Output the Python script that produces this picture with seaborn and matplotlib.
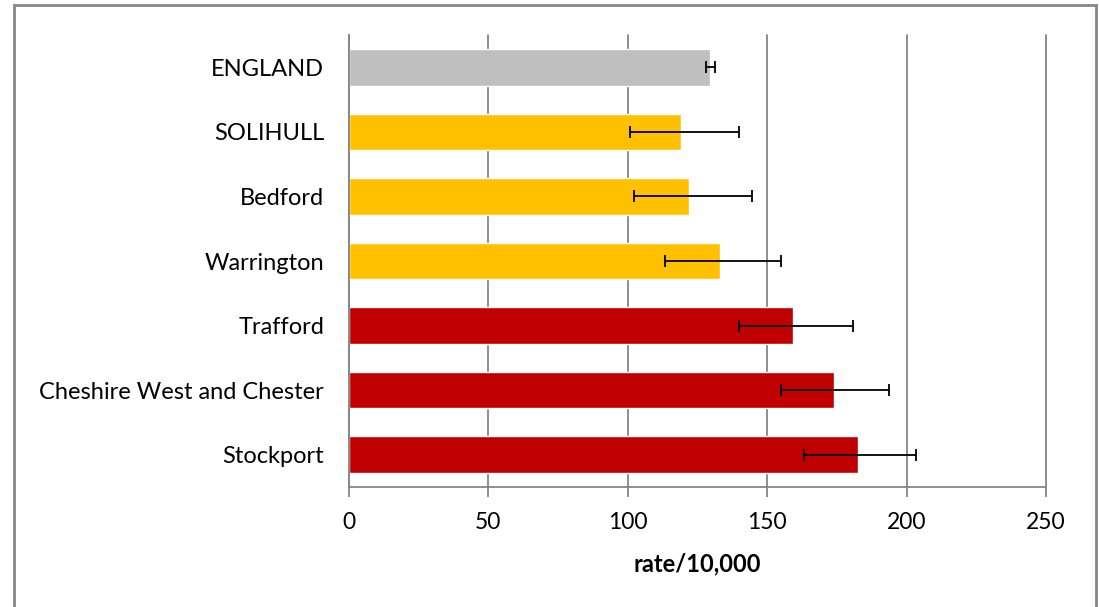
import pandas as pd
import seaborn as sns
import matplotlib.pyplot as plt
from matplotlib.patches import Rectangle

# Values
areas = ['ENGLAND', 'SOLIHULL', 'Bedford', 'Warrington', 'Trafford',
         'Cheshire West and Chester', 'Stockport']
rates = [129.5, 119.2, 122.1, 133.2, 159.3, 174.0, 182.4]
lower_ci = [128.1, 100.6, 102.3, 113.5, 139.7, 155.1, 163.3]
upper_ci = [131.2, 140.0, 144.6, 155.0, 180.9, 193.5, 203.4]
bar_colours = ['#BFBFBF', '#FFC000', '#FFC000', '#FFC000',
               '#C00000', '#C00000', '#C00000']

df = pd.DataFrame({'area': areas, 'rate': rates, 'lo': lower_ci, 'hi': upper_ci})

sns.set_style('white')
plt.rcParams['font.family'] = ['Lato', 'DejaVu Sans']

fig = plt.figure(figsize=(10.99, 6.07), dpi=100)
ax = fig.add_axes([0.3176, 0.198, 0.6342, 0.744])

sns.barplot(data=df, x='rate', y='area', hue='area', palette=bar_colours,
            orient='h', width=0.57, legend=False, ax=ax, saturation=1)

# confidence intervals
ax.errorbar(df['rate'], range(len(df)),
            xerr=[df['rate'] - df['lo'], df['hi'] - df['rate']],
            fmt='none', ecolor='black', elinewidth=1.3, capsize=4, capthick=1.3)

ax.set_xlim(0, 250)
ax.set_xticks([0, 50, 100, 150, 200, 250])
ax.set_ylim(len(df) - 0.5, -0.5)
ax.grid(axis='x', color='#868686', linewidth=1.3)
for gl in ax.get_xgridlines():
    gl.set_clip_on(False)
ax.set_axisbelow(True)

for side in ['top', 'right']:
    ax.spines[side].set_visible(False)
for side in ['left', 'bottom']:
    ax.spines[side].set_color('#868686')
    ax.spines[side].set_linewidth(1.3)

ax.tick_params(axis='x', direction='out', length=7, width=1.3, color='#868686',
               labelsize=16.5, labelcolor='black', pad=11, bottom=True)
ax.tick_params(axis='y', length=0, labelsize=17, labelcolor='black', pad=18)
ax.set_ylabel('')
ax.set_xlabel('rate/10,000', fontsize=17, fontweight='bold', color='black',
              labelpad=14)

# outer chart border (bottom edge runs off the image)
fig.patches.append(Rectangle((14 / 1099, -10 / 607), 1082 / 1099, 612 / 607,
                             transform=fig.transFigure, fill=False,
                             edgecolor='#868686', linewidth=2))

fig.savefig('out.png', dpi=100)
